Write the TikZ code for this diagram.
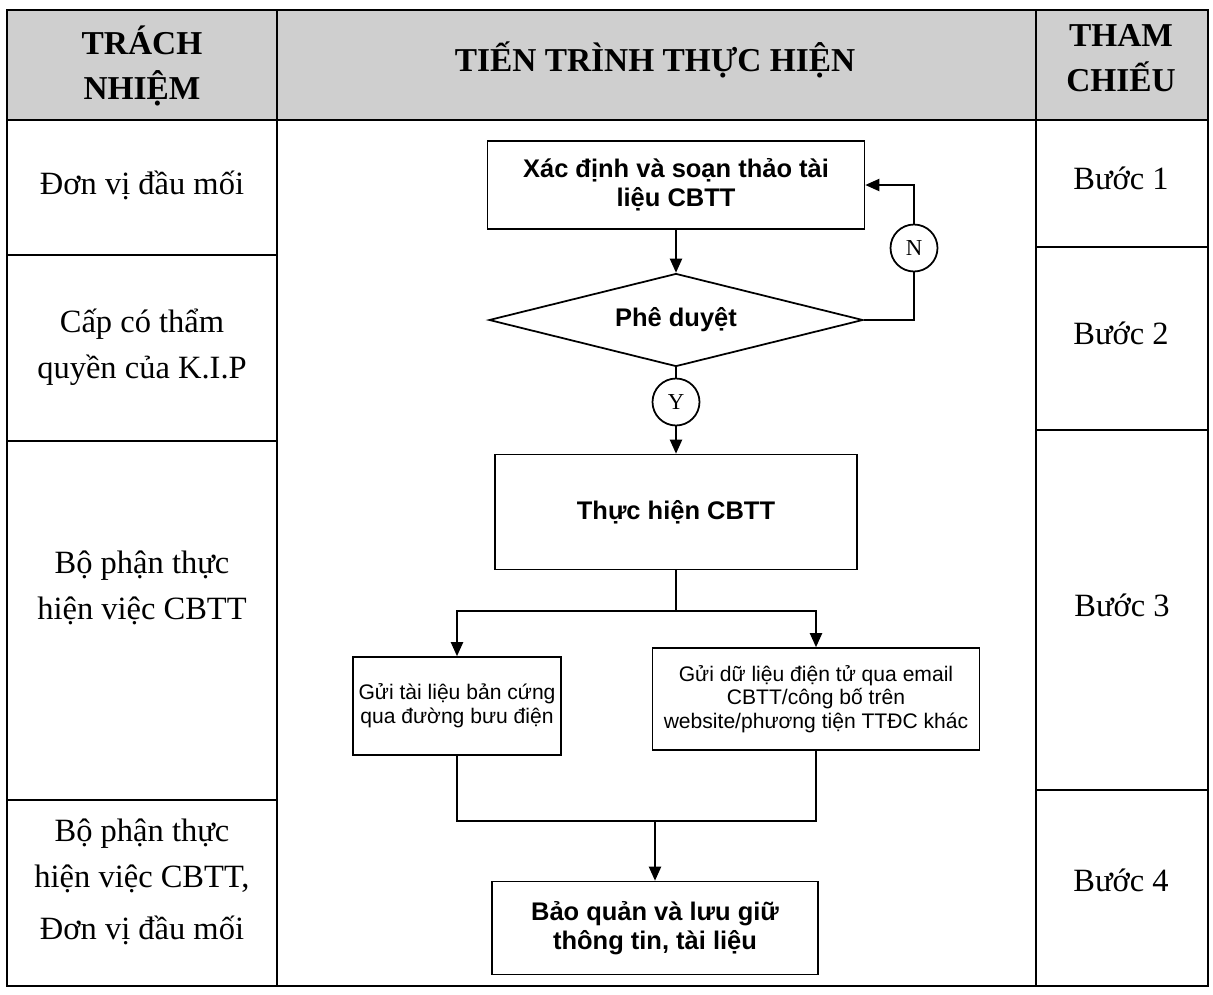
\documentclass[tikz,border=0pt]{standalone}
\usepackage{fontspec}
\setmainfont{Liberation Serif}
\setsansfont{Liberation Sans}
\usetikzlibrary{arrows.meta,shapes.geometric}

\begin{document}
\begin{tikzpicture}[x=0.02cm, y=-0.02cm, line width=0.8pt,
    head/.style={font=\fontsize{19}{26}\selectfont\bfseries, align=center},
    cell/.style={font=\fontsize{18.5}{26}\selectfont, align=center},
    box/.style={draw, line width=1pt, inner sep=0pt, align=center,
      font=\sffamily\bfseries\fontsize{14.5}{16.5}\selectfont},
    smallbox/.style={draw, line width=1pt, inner sep=0pt, align=center,
      font=\sffamily\fontsize{12}{13.5}\selectfont},
    yn/.style={draw, circle, line width=1pt, inner sep=0pt, minimum size=0.94cm,
      font=\fontsize{13}{13}\selectfont},
    >={Triangle[length=8pt,width=7pt]}]
      \useasboundingbox (0, 0) rectangle (1213, 994);

      \fill[gray!38] (7, 10) rectangle (1208, 120);
      \draw (7, 10) rectangle (1208, 986);
      \draw (7, 120) -- (1208, 120);
      \draw (277, 10) -- (277, 986);
      \draw (1036, 10) -- (1036, 986);
      \draw (7, 255) -- (277, 255);
      \draw (7, 441) -- (277, 441);
      \draw (7, 800) -- (277, 800);
      \draw (1036, 247) -- (1208, 247);
      \draw (1036, 430) -- (1208, 430);
      \draw (1036, 790) -- (1208, 790);

      \node[head] (h1) at (142, 66) {TRÁCH\\NHIỆM};
      \node[head] (h2) at (655, 60) {TIẾN TRÌNH THỰC HIỆN};
      \node[head] (h3) at (1121, 58) {THAM\\CHIẾU};

      \node[cell] (r1) at (142, 185) {Đơn vị đầu mối};
      \node[cell] (r2) at (142, 347) {Cấp có thẩm\\quyền của K.I.P};
      \node[cell] (r3) at (142, 588) {Bộ phận thực\\hiện việc CBTT};
      \node[cell] (r4) at (142, 882) {Bộ phận thực\\hiện việc CBTT,\\[4pt]Đơn vị đầu mối};

      \node[cell] (s1) at (1121, 178) {Bước 1};
      \node[cell] (s2) at (1121, 333) {Bước 2};
      \node[cell] (s3) at (1122, 605) {Bước 3};
      \node[cell] (s4) at (1121, 880) {Bước 4};

      \node[box, minimum width=7.54cm, minimum height=1.76cm] (b1) at (676, 185)
        {Xác định và soạn thảo tài\\liệu CBTT};
      \node[box, diamond, shape aspect=4.02, minimum width=7.48cm, minimum height=1.86cm] (dia) at (676, 320)
        {Phê duyệt};
      \node[yn] (n) at (914, 248) {N};
      \node[yn] (y) at (676, 402) {Y};
      \node[box, minimum width=7.24cm, minimum height=2.3cm] (b3) at (676, 512)
        {Thực hiện CBTT};
      \node[smallbox, minimum width=4.16cm, minimum height=1.96cm] (b4) at (457, 706)
        {Gửi tài liệu bản cứng\\qua đường bưu điện};
      \node[smallbox, minimum width=6.54cm, minimum height=2.04cm] (b5) at (816, 699)
        {Gửi dữ liệu điện tử qua email\\CBTT/công bố trên\\website/phương tiện TTĐC khác};
      \node[box, minimum width=6.52cm, minimum height=1.86cm] (b6) at (655, 928)
        {Bảo quản và lưu giữ\\thông tin, tài liệu};

      \coordinate (split) at (676, 611);
      \coordinate (join) at (655, 821);

      \draw [->] (b1) -- (dia);
      \draw (dia.east) -| (n.south);
      \draw [->] (n.north) |- (b1.east);
      \draw (dia.south) -- (y.north);
      \draw [->] (y.south) -- (b3.north);
      \draw (b3.south) -- (split);
      \draw [->] (split) -| (b4.north);
      \draw [->] (split) -| (b5.north);
      \draw (b4.south) |- (join);
      \draw (b5.south) |- (join);
      \draw [->] (join) -- (b6.north);
\end{tikzpicture}
\end{document}
